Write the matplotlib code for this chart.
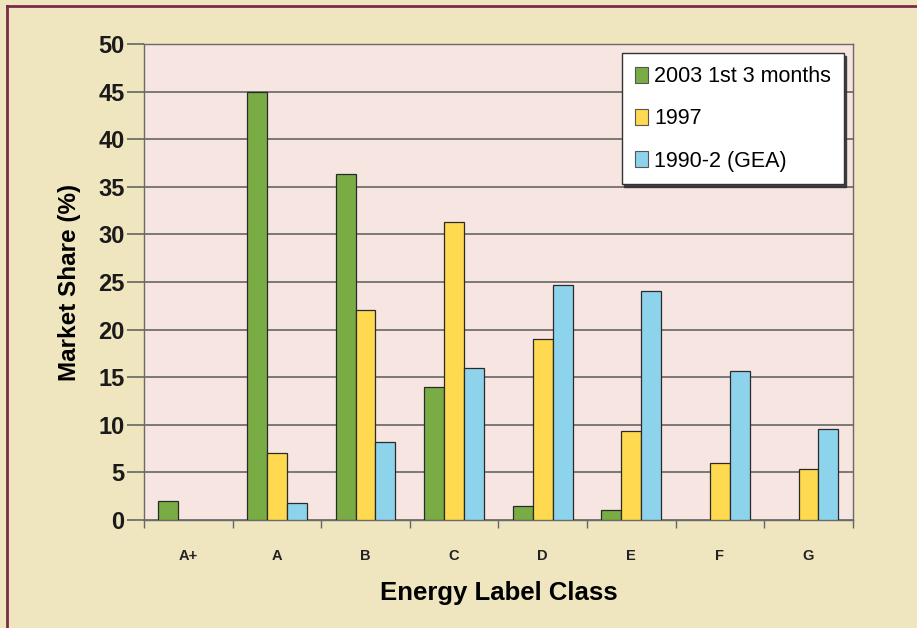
import matplotlib
matplotlib.use("Agg")
import matplotlib.pyplot as plt
import numpy as np
from matplotlib.lines import Line2D
from matplotlib.patches import Patch

plt.rcParams['font.family'] = ['Liberation Sans', 'DejaVu Sans']

categories = ["A+", "A", "B", "C", "D", "E", "F", "G"]
series_names = ["2003 1st 3 months", "1997", "1990-2 (GEA)"]
share_2003 = [2.0, 45.0, 36.3, 14.0, 1.5, 1.0, 0.0, 0.0]
share_1997 = [0.0, 7.0, 22.1, 31.3, 19.0, 9.3, 6.0, 5.4]
share_1990 = [0.0, 1.8, 8.2, 16.0, 24.7, 24.0, 15.7, 9.6]
yticks = [0, 5, 10, 15, 20, 25, 30, 35, 40, 45, 50]

colors = ["#79AC45", "#FFD94F", "#8ED3EC"]
fig_bg = "#EFE5BE"
plot_bg = "#F7E5E2"
edge = "#2a2a2a"

fig = plt.figure(figsize=(9.17, 6.28), dpi=100, facecolor=fig_bg)
ax = fig.add_axes([0.157, 0.172, 0.773, 0.758])
ax.set_facecolor(plot_bg)

x = np.arange(len(categories))
w = 0.225
for i, (vals, c) in enumerate(zip([share_2003, share_1997, share_1990], colors)):
    edges = [edge if v > 0 else "none" for v in vals]
    ax.bar(x + (i - 1) * w, vals, width=w, color=c, edgecolor=edges,
           linewidth=0.9, zorder=3)

ax.set_xlim(-0.5, len(categories) - 0.5)
ax.set_ylim(0, 50)
ax.set_yticks(yticks)
ax.set_yticklabels([str(t) for t in yticks], fontsize=17, fontweight="bold", color="#1a1a1a")
ax.yaxis.grid(True, color="#5a5a5a", linewidth=1.1, zorder=1)
ax.set_axisbelow(True)

# category boundaries as x ticks, labels centred on categories
ax.set_xticks(np.arange(len(categories) + 1) - 0.5)
ax.set_xticklabels([])
ax.set_xticks(x, minor=True)
ax.set_xticklabels(categories, minor=True, fontsize=10.5, fontweight="bold", color="#222222")
ax.tick_params(axis="x", which="major", length=6, width=1, color="#666666", direction="out")
ax.tick_params(axis="x", which="minor", length=0, pad=21)
ax.tick_params(axis="y", length=12, width=1.1, color="#5a5a5a", pad=2)

for side in ["left", "right", "top", "bottom"]:
    ax.spines[side].set_color("#6a6a6a")
    ax.spines[side].set_linewidth(1.0)

ax.set_ylabel("Market Share (%)", fontsize=17.5, fontweight="bold", labelpad=12)
ax.set_xlabel("Energy Label Class", fontsize=18.5, fontweight="bold", labelpad=13)

handles = [Patch(facecolor=c, edgecolor="#555555", linewidth=0.8) for c in colors]
leg = ax.legend(handles, series_names, loc="upper right", bbox_to_anchor=(1.004, 1.005),
                fontsize=15.5, frameon=True, fancybox=False,
                shadow={"ox": 1.5, "oy": -1.5, "color": "#333333", "alpha": 0.9},
                handlelength=0.6, handleheight=0.75, handletextpad=0.3, labelspacing=0.98,
                borderpad=0.6, borderaxespad=0.55)
leg.get_frame().set_edgecolor("#333333")
leg.get_frame().set_linewidth(1.0)
leg.get_frame().set_facecolor("white")
leg.set_zorder(5)

# outer frame lines along the left and top edges
fig.add_artist(Line2D([7 / 917, 7 / 917], [0, 1 - 6 / 628], transform=fig.transFigure,
                      color="#7B2B48", linewidth=2))
fig.add_artist(Line2D([7 / 917, 1], [1 - 6 / 628, 1 - 6 / 628], transform=fig.transFigure,
                      color="#7B2B48", linewidth=2))

fig.savefig("out.png", dpi=100, facecolor=fig_bg)
